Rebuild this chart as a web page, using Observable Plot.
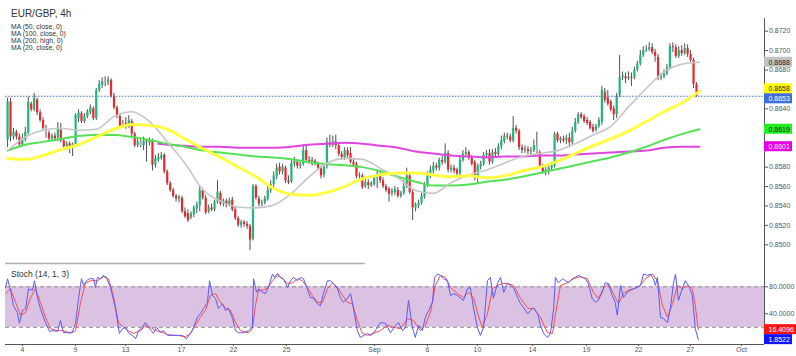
<!DOCTYPE html>
<html>
<head>
<meta charset="utf-8">
<script src="https://cdn.jsdelivr.net/npm/d3@7"></script>
<script src="https://cdn.jsdelivr.net/npm/@observablehq/plot@0.6"></script>
<style>
  body { margin: 0; background: #fff; }
  #wrap { position: relative; width: 796px; height: 356px; overflow: hidden; background: #fff;
          font-family: "Liberation Sans", Arial, Helvetica, sans-serif; }
  .txt { position: absolute; left: 11px; color: #333; white-space: nowrap; }
  #legend div { height: 7px; line-height: 7px; }
  #main, #stoch { position: absolute; left: 0; }
  #main { top: 0; }
  #stoch { top: 265px; }
</style>
</head>
<body>
<div id="wrap">
  <div id="main"></div>
  <div id="stoch"></div>
  <div id="title" class="txt" style="top:8.7px;font-size:10px;line-height:10px"></div>
  <div id="legend" class="txt" style="top:23.2px;font-size:6.8px"></div>
  <div id="stochTitle" class="txt" style="top:269.7px;font-size:8.5px;line-height:9px"></div>
</div>
<script>
// ---------------- data (EUR/GBP 4h bars, prices in units of 0.0001) ----------------
const chartTitle = "EUR/GBP, 4h";
const maLegend = ["MA (50, close, 0)", "MA (100, close, 0)", "MA (200, high, 0)", "MA (20, close, 0)"];
const stochTitle = "Stoch (14, 1, 3)";

const open = [8608,8647,8611,8616,8611,8603,8608,8615,8645,8639,
8649,8636,8628,8620,8615,8609,8612,8610,8618,8607,
8601,8604,8600,8602,8630,8635,8627,8632,8636,8640,
8630,8659,8664,8668,8667,8669,8653,8641,8632,8622,
8625,8621,8627,8614,8602,8606,8602,8607,8605,8607,
8582,8587,8589,8592,8575,8563,8556,8550,8547,8548,
8534,8532,8528,8531,8537,8540,8556,8548,8534,8538,
8536,8544,8553,8542,8545,8541,8546,8536,8527,8520,
8523,8521,8519,8506,8560,8547,8542,8543,8547,8556,
8562,8570,8580,8575,8579,8566,8565,8583,8585,8581,
8583,8597,8587,8585,8586,8583,8579,8572,8581,8605,
8603,8606,8602,8593,8590,8597,8594,8585,8583,8570,
8571,8560,8564,8561,8562,8569,8571,8566,8560,8557,
8553,8554,8556,8550,8553,8560,8571,8554,8538,8540,
8543,8549,8561,8571,8576,8581,8579,8587,8585,8594,
8577,8579,8577,8573,8587,8593,8595,8589,8585,8569,
8580,8583,8592,8594,8585,8595,8593,8601,8606,8612,
8611,8607,8620,8617,8600,8597,8598,8596,8597,8602,
8595,8581,8575,8576,8579,8581,8614,8607,8609,8607,
8610,8605,8617,8626,8634,8632,8628,8626,8621,8618,
8622,8626,8657,8651,8647,8640,8634,8654,8672,8673,
8671,8672,8672,8680,8686,8695,8700,8701,8703,8698,
8693,8672,8673,8676,8682,8704,8703,8694,8700,8697,
8702,8696,8690,8665];
const high = [8651,8651,8620,8618,8614,8614,8621,8652,8647,8656,
8651,8639,8631,8623,8617,8614,8615,8626,8625,8609,
8606,8606,8605,8635,8639,8637,8635,8639,8644,8642,
8661,8669,8672,8673,8673,8671,8656,8643,8635,8628,
8631,8633,8629,8616,8609,8608,8611,8608,8610,8609,
8592,8594,8595,8594,8577,8565,8558,8552,8551,8550,
8538,8536,8534,8540,8544,8560,8558,8551,8541,8542,
8546,8566,8555,8547,8547,8548,8549,8539,8529,8525,
8525,8524,8521,8562,8562,8550,8546,8550,8560,8566,
8575,8583,8584,8583,8581,8571,8587,8590,8587,8585,
8603,8602,8591,8590,8588,8585,8581,8583,8610,8613,
8612,8613,8604,8596,8600,8600,8600,8589,8585,8574,
8573,8568,8567,8565,8571,8577,8575,8569,8562,8559,
8558,8560,8559,8555,8566,8579,8573,8556,8543,8546,
8553,8564,8575,8581,8585,8584,8589,8591,8604,8597,
8582,8582,8579,8591,8597,8600,8597,8592,8587,8583,
8586,8595,8597,8598,8598,8599,8604,8612,8615,8615,
8614,8632,8623,8619,8603,8602,8601,8600,8608,8616,
8597,8583,8580,8582,8585,8616,8616,8611,8612,8613,
8615,8621,8630,8636,8636,8634,8631,8628,8624,8624,
8631,8663,8661,8659,8649,8643,8656,8695,8678,8677,
8678,8677,8683,8689,8700,8704,8705,8708,8707,8701,
8696,8676,8680,8686,8707,8708,8706,8704,8705,8707,
8706,8700,8692,8667];
const low = [8600,8606,8608,8608,8601,8601,8606,8613,8637,8637,
8633,8626,8618,8610,8606,8607,8607,8606,8605,8598,
8597,8594,8591,8600,8626,8625,8625,8630,8634,8628,
8628,8657,8661,8663,8664,8651,8639,8630,8620,8620,
8619,8620,8611,8600,8600,8600,8597,8585,8602,8576,
8579,8585,8587,8573,8561,8554,8548,8544,8543,8532,
8527,8523,8526,8528,8532,8534,8546,8531,8532,8534,
8534,8542,8540,8539,8538,8539,8534,8525,8518,8517,
8518,8516,8494,8504,8546,8539,8539,8541,8545,8553,
8559,8567,8572,8572,8563,8562,8563,8580,8578,8578,
8581,8584,8583,8581,8581,8577,8568,8569,8578,8600,
8600,8598,8591,8587,8587,8589,8583,8580,8568,8566,
8557,8558,8557,8559,8560,8558,8563,8558,8554,8544,
8550,8551,8548,8548,8551,8558,8552,8525,8534,8537,
8541,8547,8559,8568,8573,8576,8576,8582,8583,8574,
8574,8573,8571,8570,8585,8590,8587,8581,8566,8562,
8577,8581,8589,8582,8583,8591,8590,8598,8604,8608,
8605,8605,8614,8597,8594,8594,8593,8593,8595,8593,
8579,8573,8571,8572,8576,8579,8605,8604,8605,8603,
8600,8603,8615,8624,8629,8625,8623,8618,8615,8616,
8620,8623,8646,8643,8637,8628,8630,8652,8669,8666,
8669,8663,8670,8678,8684,8693,8698,8699,8696,8688,
8669,8669,8671,8674,8680,8698,8692,8692,8694,8695,
8693,8688,8661,8652];
const close = [8647,8611,8616,8611,8603,8608,8616,8647,8639,8651,
8636,8628,8620,8613,8609,8612,8609,8620,8607,8601,
8604,8600,8603,8633,8636,8627,8632,8637,8641,8630,
8659,8665,8668,8667,8670,8653,8641,8632,8622,8625,
8621,8628,8614,8602,8606,8602,8607,8606,8608,8582,
8589,8590,8592,8575,8563,8556,8550,8547,8549,8534,
8529,8525,8532,8538,8541,8556,8548,8533,8538,8536,
8544,8554,8542,8545,8541,8545,8536,8527,8520,8523,
8521,8519,8505,8560,8548,8542,8543,8548,8556,8562,
8571,8579,8575,8580,8566,8564,8584,8586,8581,8583,
8597,8587,8585,8587,8583,8579,8571,8580,8606,8603,
8606,8602,8593,8590,8597,8592,8585,8582,8570,8571,
8559,8564,8561,8563,8569,8571,8566,8560,8556,8552,
8555,8557,8550,8553,8560,8571,8554,8538,8541,8543,
8550,8561,8571,8577,8581,8579,8587,8585,8594,8577,
8579,8576,8573,8587,8593,8595,8589,8583,8569,8581,
8583,8592,8594,8585,8595,8593,8601,8607,8612,8611,
8607,8620,8617,8600,8597,8598,8596,8597,8602,8595,
8581,8575,8577,8579,8582,8614,8607,8609,8607,8610,
8605,8617,8626,8634,8631,8627,8625,8620,8617,8622,
8628,8659,8649,8645,8639,8634,8652,8672,8674,8671,
8673,8671,8680,8686,8695,8700,8701,8703,8698,8694,
8672,8673,8676,8682,8704,8703,8694,8700,8697,8702,
8696,8690,8665,8653];
const grayBars = [13, 33, 39, 45, 179];

// moving averages, read at every 6th bar
const maIdx = [0,6,12,18,24,30,36,42,48,54,60,66,72,78,84,90,96,102,108,114,120,126,132,138,144,150,156,162,168,174,180,186,192,198,204,210,216,222,228,234];
const ma20 = [8597,8611,8618,8620,8618,8619,8632,8637,8627,8606,8584,8557,8545,8539,8538,8541,8553,8570,8584,8589,8588,8579,8569,8556,8553,8564,8572,8577,8584,8591,8594,8597,8604,8613,8622,8642,8661,8678,8686,8688];
const ma50 = [8589,8588,8592,8598,8603,8611,8619,8624,8623,8619,8609,8599,8590,8580,8570,8558,8552,8551,8554,8560,8568,8572,8574,8574,8572,8570,8571,8569,8571,8576,8580,8586,8594,8602,8609,8617,8627,8637,8646,8658];
const ma100 = [8597,8603,8606,8609,8612,8613,8613,8611,8608,8604,8601,8597,8595,8593,8591,8590,8588,8585,8583,8582,8580,8576,8570,8565,8561,8561,8562,8565,8567,8570,8574,8578,8582,8586,8590,8595,8601,8608,8614,8619];
const ma200Idx = [51,54,60,66,72,78,84,90,96,102,108,114,120,126,132,138,144,150,156,162,168,174,180,186,192,198,204,210,216,222,228,234];
const ma200 = [8604,8603,8602,8601,8601,8600,8600,8600,8601,8603,8604,8605,8604,8602,8600,8596,8594,8592,8591,8590,8591,8591,8592,8592,8593,8594,8595,8596,8597,8600,8601,8601];

// stochastic %K (blue) and %D (red)
const kIdx = [-0.7,0,1,2,3.3,4,5,6.1,7.1,8.4,9.1,10.1,11.1,12.8,14.2,15.5,16.9,17.9,18.9,20.3,21.9,23,24,25,25.7,26.7,27.7,29.1,29.7,30.4,31.4,32.4,33.4,34.8,36.5,37.8,38.9,39.9,40.9,42.2,43.3,44.3,45.6,46.6,47.7,49.3,50.4,51.7,52.7,54.1,55.8,57.5,59.1,60.5,61.9,62.9,64.2,65.2,66.3,67.6,68.3,69.3,70.3,71.3,72.7,73.7,74.7,76.1,77.1,78.1,79.8,81.5,82.8,83.2,84.2,84.9,86.2,87.2,88.2,89.6,90.3,91.3,92.3,93.3,94.7,95.7,96.7,98,99.1,100.1,101.4,102.4,103.5,104.8,105.8,106.8,108.2,109.2,110.2,111.6,112.6,113.6,114.9,116,117,118.3,119.3,120.4,121.7,122.7,123.7,125.1,126.1,127.8,129.5,131.2,132.2,133.6,134.6,135.6,136.9,137.9,139,140.3,141.3,142.4,143.7,144.4,145.4,146.4,147.4,148.8,149.8,150.8,152.2,153.2,154.2,155.5,156.5,157.6,158.9,159.9,161,162.3,163.3,164.3,165.7,166.7,167.8,169.1,170.1,171.1,172.5,173.5,174.5,175.9,176.9,177.9,179.3,180.2,181.3,182.6,183.6,184.7,185.3,186.3,187.7,188.7,189.7,191,192,193,194.4,195.4,196.4,197.7,198.8,199.8,201.1,202.1,203.1,204.5,205.5,206.2,207.3,208.3,209.6,210.7,211.7,213,214,215.1,216.4,217.4,218.4,219.1,219.8,220.8,221.8,223.2,224.2,225.2,225.9,226.9,228.2,229.2,230.3,231.6,232.6,233.6];
const kVal = [79,92,75,52,42,26,45,48,77,75,89,64,48,27,14,15,14,30,12,12,13,26,63,92,82,89,92,92,79,94,92,97,94,79,48,11,18,20,12,8,3,15,20,27,20,11,20,12,15,8,8,8,8,3,11,20,35,40,48,57,89,67,63,48,55,45,48,33,15,12,12,15,20,92,72,77,72,70,79,99,94,100,94,92,79,89,94,89,94,92,77,64,63,55,52,70,89,89,85,77,63,57,63,70,48,15,5,8,11,8,11,20,27,26,12,23,27,15,20,60,20,5,23,15,35,45,57,94,99,97,92,89,67,70,67,63,60,77,79,48,20,8,20,89,94,63,85,94,72,85,82,79,64,55,49,40,45,49,40,23,11,5,11,48,94,86,92,89,86,92,94,97,94,92,85,63,57,60,72,86,85,67,57,38,82,64,72,75,77,79,82,99,97,99,92,82,94,35,33,27,49,85,99,60,77,89,82,67,18,1.8522];
const dIdx = [-0.7,1,2.7,4.4,6.1,7.7,9.4,11.1,12.8,14.5,16.9,18.9,21.3,23,24.7,26.3,28,30.4,32.4,34.1,35.8,37.5,39.2,40.9,42.6,45,46.6,48.3,50,51.7,54.1,57.5,60.2,61.9,63.5,65.2,66.9,68.6,70.3,72,73.7,75.4,77.1,78.8,81.5,82.8,83.8,84.9,86.5,88.2,89.6,91.3,93,94.7,96.4,98,99.7,101.4,103.1,104.8,106.5,108.2,109.9,111.6,113.3,114.9,116.6,118.3,120,121.7,123.7,126.1,128.5,130.5,132.9,135.3,137.3,139.6,141.3,143,144.7,146.4,148.1,149.8,152.2,154.2,155.9,157.6,159.3,160.6,162.3,164,165.7,167.4,169.1,171.1,173.5,175.9,177.9,180.2,182.6,184.3,185.3,187,189.4,191.4,193.7,196.1,198.1,199.8,201.5,203.2,204.9,206.6,208.3,210,211.7,214,215.7,218.1,219.8,221.5,223.2,224.9,226.6,228.2,229.9,231.6,232.6,233.6];
const dVal = [70,77,57,38,42,63,77,57,35,18,15,15,11,15,57,85,89,89,95,92,67,27,20,15,11,15,23,20,15,14,9,8,6,11,23,35,45,67,70,57,49,45,27,15,12,18,52,75,75,79,89,97,92,85,86,92,89,79,67,57,57,77,86,79,67,57,55,30,11,8,11,15,23,20,18,33,30,15,23,42,82,97,94,79,70,64,72,64,35,20,40,77,82,85,85,82,63,48,48,35,12,11,40,82,86,92,95,92,72,63,77,85,70,55,70,75,77,82,92,99,89,52,35,55,82,77,82,77,52,16.4096];

// axes
const priceTicks = [0.85,0.852,0.854,0.856,0.858,0.86,0.862,0.864,0.866,0.868,0.87,0.872];
const stochTicks = [40, 80];
const stochBand = [20, 80];
const xTickIdx = [5.05,22.97,39.9,58.8,76.4,94.3,124.1,142.0,158.9,177.5,195.8,213.4,230.9,248.2];
const xTickLabels = ["4","9","13","17","22","25","Sep","6","10","14","19","22","27","Oct"];
const scrollEndIdx = 121;

// ---------------- build ----------------
const FONT = '"Liberation Sans", Arial, Helvetica, sans-serif';
const P = v => v / 10000;
const GREEN = "#1fb67b", RED = "#e8282d", GRAY = "#b5b5b5";
const bars = open.map((o, i) => ({
  i, o: P(o), h: P(high[i]), l: P(low[i]), c: P(close[i]),
  col: grayBars.includes(i) ? GRAY : (close[i] >= o ? GREEN : RED)
}));
const series = (idx, vals, f = P) => idx.map((x, k) => ({i: x, v: f(vals[k])})).filter(d => d.v != null && !isNaN(d.v));
const s20 = series(maIdx, ma20), s50 = series(maIdx, ma50), s100 = series(maIdx, ma100), s200 = series(ma200Idx, ma200);
const kData = series(kIdx, kVal, v => v), dData = series(dIdx, dVal, v => v);

const xDomain = [-0.7, 256];
const MAIN_H = 265, STOCH_H = 91, STOCH_MB = 12;
const mainY = [0.847868, 0.87516];
const axisTopPrice = 0.8733;
const stochY = [-5.48, 111.6];
const last = a => a[a.length - 1];
const lastPrice = P(last(close));

// push price labels apart so they never overlap (10px boxes)
function dodge(boxes, domain, h, gap = 10) {
  const px = v => h * (domain[1] - v) / (domain[1] - domain[0]);
  boxes.forEach(b => { b.py = px(b.v); b.dy = 0; });
  const s = [...boxes].sort((a, b) => a.py - b.py);
  for (let it = 0; it < 20; it++) {
    for (let k = 1; k < s.length; k++) {
      const a = s[k - 1], b = s[k];
      const d = (b.py + b.dy) - (a.py + a.dy);
      if (d < gap) { const m = (gap - d) / 2; a.dy -= m; b.dy += m; }
    }
  }
  return boxes;
}

const mainBoxes = dodge([
  {v: P(last(ma20)), bg: "#c2c2c2", fg: "#222"},
  {v: P(last(ma50)), bg: "#ffff00", fg: "#222"},
  {v: lastPrice, bg: "#3f6fd6", fg: "#fff"},
  {v: P(last(ma100)), bg: "#1fee1f", fg: "#222"},
  {v: P(last(ma200)), bg: "#e600e6", fg: "#fff"}
].map(d => ({...d, t: d.v.toFixed(4), w: 28})), mainY, MAIN_H);
const stochBoxes = dodge([
  {v: last(dVal), bg: "#ff1414", fg: "#fff", w: 32},
  {v: last(kVal), bg: "#1414ff", fg: "#fff", w: 28}
].map(d => ({...d, t: d.v.toFixed(4)})), stochY, STOCH_H - STOCH_MB);

const xr = () => xDomain[1];
const boxMarks = boxes => boxes.flatMap(b => [
  Plot.rect([b], {x1: xr, x2: xr, y1: "v", y2: "v", insetRight: -b.w, insetTop: -5, insetBottom: -5, dy: b.dy, fill: b.bg}),
  Plot.text([b], {x: xr, y: "v", text: "t", fill: b.fg, textAnchor: "start", dx: 4, dy: b.dy, fontSize: 7})
]);

const mainPlot = Plot.plot({
  width: 796, height: MAIN_H,
  marginLeft: 5, marginRight: 32, marginTop: 0, marginBottom: 0,
  style: {fontFamily: FONT, fontSize: "7px", color: "#555", background: "transparent"},
  x: {domain: xDomain, axis: null},
  y: {domain: mainY},
  color: {type: "identity"},
  marks: [
    Plot.axisY(priceTicks, {anchor: "right", tickFormat: d => d.toFixed(4), tickSize: 3, tickPadding: 1.5, fontSize: 7, label: null}),
    Plot.ruleX([xDomain[1]], {y1: axisTopPrice, y2: mainY[0], stroke: "#555"}),
    Plot.ruleY([mainY[0]], {x1: xDomain[0], x2: scrollEndIdx, dy: -2, stroke: "#b0b0b0", strokeWidth: 1.5}),
    Plot.ruleY([lastPrice], {stroke: "#3f6fd6", strokeDasharray: "1.5,1.5"}),
    Plot.ruleX(bars, {x: "i", y1: "l", y2: "h", stroke: "#505050", strokeWidth: 1}),
    Plot.ruleX(bars, {x: "i", y1: "o", y2: "c", stroke: "col", strokeWidth: 2.2}),
    Plot.line(s200, {x: "i", y: "v", stroke: "#df45df", strokeWidth: 2, curve: "monotone-x"}),
    Plot.line(s100, {x: "i", y: "v", stroke: "#55e055", strokeWidth: 2, curve: "monotone-x"}),
    Plot.line(s20, {x: "i", y: "v", stroke: "#c6c6c6", strokeWidth: 1.6, curve: "monotone-x"}),
    Plot.line(s50, {x: "i", y: "v", stroke: "#ffff40", strokeWidth: 3, curve: "monotone-x"}),
    ...boxMarks(mainBoxes)
  ]
});
document.getElementById("main").appendChild(mainPlot);

const tickMap = new Map(xTickIdx.map((v, k) => [v, xTickLabels[k]]));
const stochPlot = Plot.plot({
  width: 796, height: STOCH_H,
  marginLeft: 5, marginRight: 32, marginTop: 0, marginBottom: STOCH_MB,
  style: {fontFamily: FONT, fontSize: "7px", color: "#555", background: "transparent"},
  x: {domain: xDomain},
  y: {domain: stochY},
  color: {type: "identity"},
  marks: [
    Plot.rect([0], {x1: () => xDomain[0], x2: () => xDomain[1], y1: () => stochBand[0], y2: () => stochBand[1], fill: "#dcc2e2"}),
    Plot.ruleY(stochBand, {stroke: "#8c8c8c", strokeDasharray: "4,3"}),
    Plot.line(dData, {x: "i", y: "v", stroke: "#ff4b4b", strokeWidth: 1}),
    Plot.line(kData, {x: "i", y: "v", stroke: "#5a5aff", strokeWidth: 1}),
    Plot.axisY(stochTicks, {anchor: "right", tickFormat: d => d.toFixed(4), tickSize: 3, tickPadding: 1.5, fontSize: 7, label: null}),
    Plot.axisX(xTickIdx, {anchor: "bottom", tickFormat: d => tickMap.get(d), tickSize: 2, tickPadding: 1, fontSize: 7, label: null}),
    Plot.ruleY([stochY[0]], {stroke: "#555"}),
    Plot.ruleX([xDomain[1]], {stroke: "#555"}),
    ...boxMarks(stochBoxes)
  ]
});
document.getElementById("stoch").appendChild(stochPlot);

document.getElementById("title").textContent = chartTitle;
const legendEl = document.getElementById("legend");
maLegend.forEach(s => { const d = document.createElement("div"); d.textContent = s; legendEl.appendChild(d); });
document.getElementById("stochTitle").textContent = stochTitle;
</script>
</body>
</html>
